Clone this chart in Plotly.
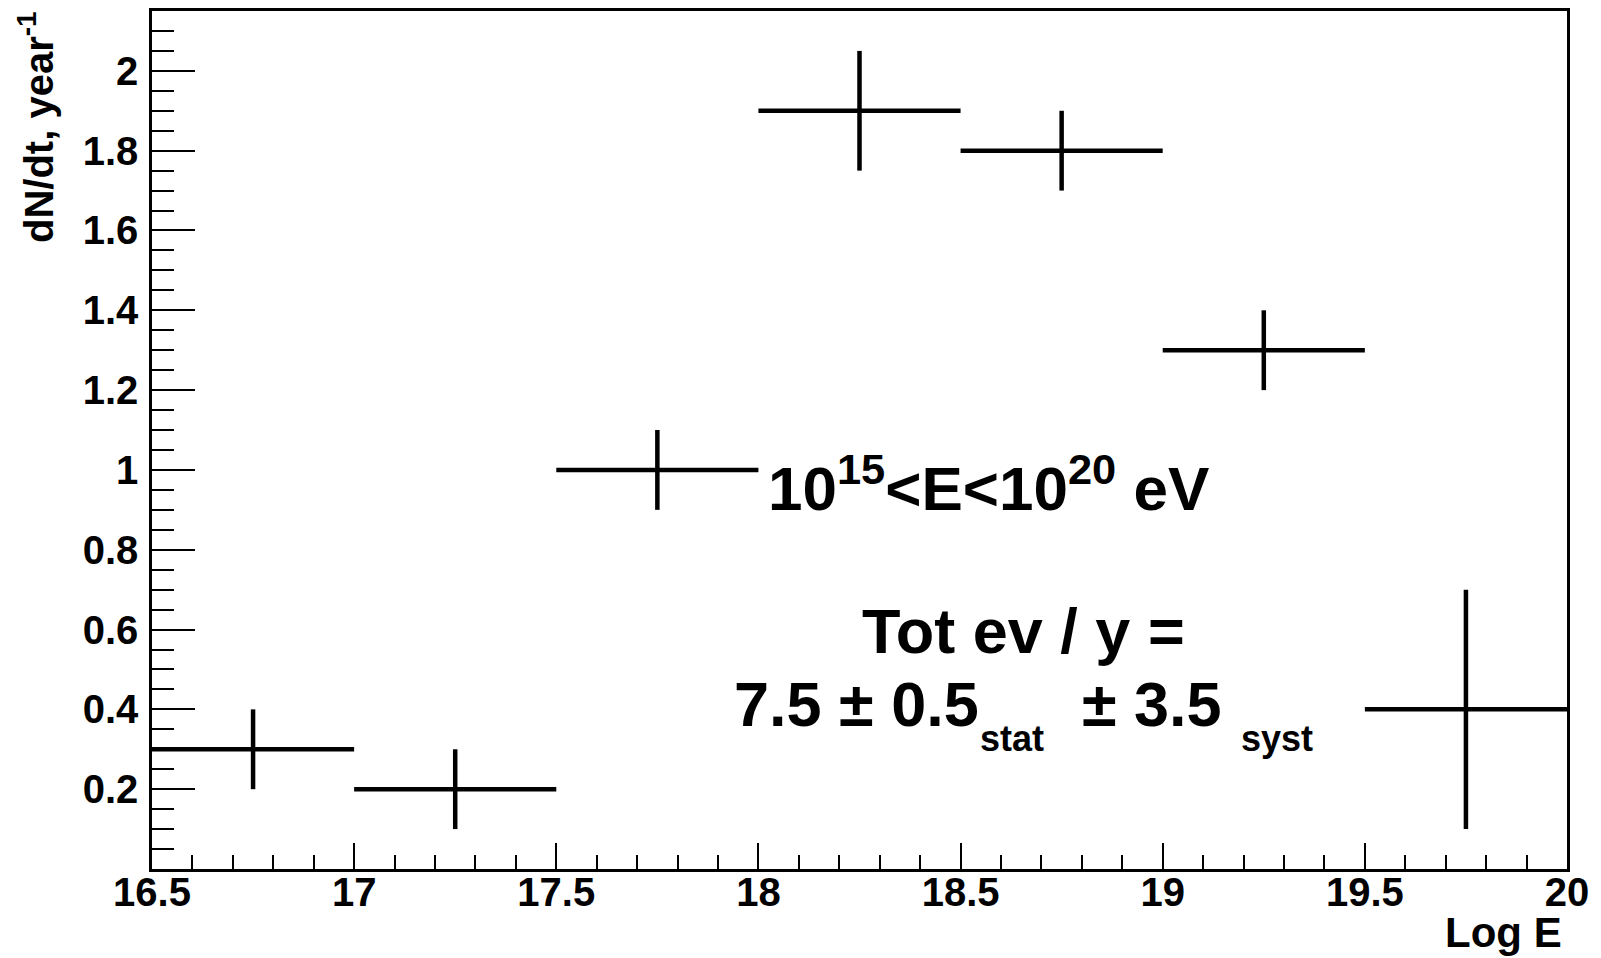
import plotly.graph_objects as go

# ---- data ----
log_e = [16.75, 17.25, 17.75, 18.25, 18.75, 19.25, 19.75]
rate = [0.3, 0.2, 1.0, 1.9, 1.8, 1.3, 0.4]
rate_err = [0.1, 0.1, 0.1, 0.15, 0.1, 0.1, 0.3]
bin_half_width = [0.25, 0.25, 0.25, 0.25, 0.25, 0.25, 0.25]

x_tickvals = [16.5, 17, 17.5, 18, 18.5, 19, 19.5, 20]
x_ticktext = ["16.5", "17", "17.5", "18", "18.5", "19", "19.5", "20"]
y_tickvals = [0.2, 0.4, 0.6, 0.8, 1.0, 1.2, 1.4, 1.6, 1.8, 2.0]
y_ticktext = ["0.2", "0.4", "0.6", "0.8", "1", "1.2", "1.4", "1.6", "1.8", "2"]

# page has an 8px body margin; work in page pixels and convert
OFF = 8
W, H = 1601 - OFF, 958 - OFF
P_LEFT, P_RIGHT, P_TOP, P_BOTTOM = 152, 1567, 11, 869   # plot frame in page px
L = P_LEFT - OFF
T = P_TOP - OFF
R = W - (P_RIGHT - OFF)
B = H - (P_BOTTOM - OFF)
XR = [16.5, 20.0]
YR = [0.0, 2.15]

FONT = "Liberation Sans, Arial, Helvetica, sans-serif"

fig = go.Figure()
fig.add_trace(go.Scatter(
    x=log_e, y=rate, mode="markers",
    marker=dict(size=1, color="black", opacity=0),
    error_x=dict(type="data", array=bin_half_width, color="black", thickness=4.5, width=0),
    error_y=dict(type="data", array=rate_err, color="black", thickness=4.5, width=0),
    showlegend=False, hoverinfo="x+y",
))

pw = P_RIGHT - P_LEFT
ph = P_BOTTOM - P_TOP


def px2x(px):
    return XR[0] + (px - P_LEFT) / pw * (XR[1] - XR[0])


def py2y(py):
    return YR[0] + (P_BOTTOM - py) / ph * (YR[1] - YR[0])


def text_at(txt, left_px, baseline_px, size):
    # bold text: left edge at left_px, baseline at baseline_px (page px)
    fig.add_annotation(
        x=px2x(left_px - 2), y=py2y(baseline_px), xref="x", yref="y",
        text=f"<b>{txt}</b>",
        showarrow=False, xanchor="left", yanchor="bottom",
        yshift=-0.24 * size,
        font=dict(family=FONT, size=size, color="black"),
    )


text_at("10<sup>15</sup>&lt;E&lt;10<sup>20</sup> eV", 768, 510, 62)
text_at("Tot ev / y =", 862, 653, 63)
text_at("7.5 ± 0.5", 734, 726, 63)
text_at("stat", 980, 752, 36)
text_at("± 3.5", 1082, 726, 63)
text_at("syst", 1241, 752, 36)

# axis titles
fig.add_annotation(
    x=(36 - P_LEFT) / pw, y=1 + (P_TOP - 9) / ph, xref="paper", yref="paper",
    text="<b>dN/dt, year<sup>-1</sup></b>", textangle=-90, showarrow=False,
    xanchor="center", yanchor="top",
    font=dict(family=FONT, size=40, color="black"),
)
fig.add_annotation(
    x=(1564 - P_LEFT) / pw, y=-(958 - P_BOTTOM) / ph, xref="paper", yref="paper",
    text="<b>Log E</b>", showarrow=False, xanchor="right", yanchor="bottom",
    font=dict(family=FONT, size=42, color="black"),
)

fig.update_xaxes(
    range=XR, showgrid=False, zeroline=False,
    showline=True, linecolor="black", linewidth=2.5, mirror=True,
    ticks="inside", ticklen=26, tickwidth=2, tickcolor="black",
    tickvals=x_tickvals, ticktext=[f"<b>{t}</b>" for t in x_ticktext],
    tickfont=dict(family=FONT, size=40, color="black"),
    ticklabelstandoff=-14,
    minor=dict(dtick=0.1, tick0=16.5, ticks="inside", ticklen=14, tickwidth=2, tickcolor="black", showgrid=False),
)
fig.update_yaxes(
    range=YR, showgrid=False, zeroline=False,
    showline=True, linecolor="black", linewidth=2.5, mirror=True,
    ticks="inside", ticklen=43, tickwidth=2, tickcolor="black",
    tickvals=y_tickvals, ticktext=[f"<b>{t}</b>" for t in y_ticktext],
    tickfont=dict(family=FONT, size=40, color="black"),
    ticklabelstandoff=3,
    minor=dict(dtick=0.05, tick0=0, ticks="inside", ticklen=22, tickwidth=2, tickcolor="black", showgrid=False),
)

fig.update_layout(
    width=W, height=H,
    margin=dict(l=L, r=R, t=T, b=B, autoexpand=False),
    paper_bgcolor="white", plot_bgcolor="white",
    showlegend=False,
)

fig.write_html("out.html")
